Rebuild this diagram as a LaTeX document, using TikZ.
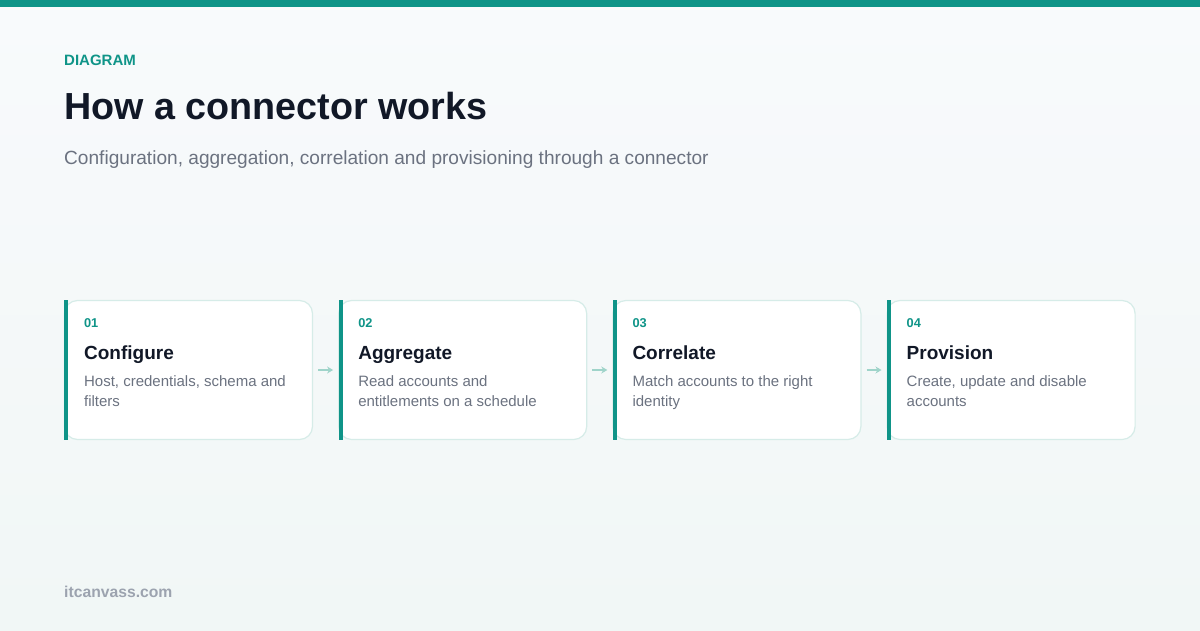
\documentclass[tikz,border=0pt]{standalone}
\usepackage{fontspec}
\setmainfont{Liberation Sans}
\usetikzlibrary{positioning,arrows.meta}
\definecolor{teal}{HTML}{0F9488}
\definecolor{ink}{HTML}{111827}
\definecolor{muted}{HTML}{6B7280}
\definecolor{faint}{HTML}{9CA3AF}
\definecolor{edge}{HTML}{D6ECE8}
\definecolor{flow}{HTML}{9FD4CA}
\definecolor{bgtop}{HTML}{F8FAFC}
\definecolor{bgbot}{HTML}{F1F7F6}

\begin{document}
\begin{tikzpicture}[x=1pt, y=-1pt,
  card/.style={draw=edge, line width=1.2pt, fill=white, rounded corners=13pt,
    minimum width=248pt, minimum height=139pt, inner sep=0pt},
  num/.style={anchor=base west, inner sep=0pt, text=teal, font=\fontsize{12.8}{14}\selectfont\bfseries},
  head/.style={anchor=base west, inner sep=0pt, text=ink, font=\fontsize{19}{22}\selectfont\bfseries},
  desc/.style={anchor=base west, inner sep=0pt, text=muted, align=left,
    font=\fontsize{15}{20}\selectfont},
  flowarrow/.style={draw=flow, line width=1.6pt, -{Stealth[length=6pt,width=7pt]},
    shorten <=5pt, shorten >=5pt}]
  \useasboundingbox (0,0) rectangle (1200,630);
  \shade[top color=bgtop, bottom color=bgbot] (0,0) rectangle (1200,630);
  \fill[teal] (0,0) rectangle (1200,7);

  \node (kicker) [anchor=base west, inner sep=0pt, text=teal,
    font=\fontsize{15}{16}\selectfont\bfseries] at (64,65) {DIAGRAM};
  \node (title) [anchor=base west, inner sep=0pt, text=ink,
    font=\fontsize{37.7}{44}\selectfont\bfseries] at (64,119) {How a connector works};
  \node (subtitle) [anchor=base west, inner sep=0pt, text=muted,
    font=\fontsize{19.1}{22}\selectfont] at (64,164)
    {Configuration, aggregation, correlation and provisioning through a connector};

  \node (c1) [card] at (188.5,370) {};
  \node (c2) [card, right=25pt of c1] {};
  \node (c3) [card, right=25pt of c2] {};
  \node (c4) [card, right=25pt of c3] {};

  \fill[teal] ([xshift=0.5pt]c1.north west) rectangle ([xshift=4.5pt]c1.south west);
  \fill[teal] ([xshift=0.5pt]c2.north west) rectangle ([xshift=4.5pt]c2.south west);
  \fill[teal] ([xshift=0.5pt]c3.north west) rectangle ([xshift=4.5pt]c3.south west);
  \fill[teal] ([xshift=0.5pt]c4.north west) rectangle ([xshift=4.5pt]c4.south west);

  \node (c1num) [num] at ([shift={(20,28)}]c1.north west) {01};
  \node (c1head) [head] at ([shift={(20,60)}]c1.north west) {Configure};
  \node (c1desc) [desc] at ([shift={(20,107)}]c1.north west) {Host, credentials, schema and\\filters};

  \node (c2num) [num] at ([shift={(20,28)}]c2.north west) {02};
  \node (c2head) [head] at ([shift={(20,60)}]c2.north west) {Aggregate};
  \node (c2desc) [desc] at ([shift={(20,107)}]c2.north west) {Read accounts and\\entitlements on a schedule};

  \node (c3num) [num] at ([shift={(20,28)}]c3.north west) {03};
  \node (c3head) [head] at ([shift={(20,60)}]c3.north west) {Correlate};
  \node (c3desc) [desc] at ([shift={(20,107)}]c3.north west) {Match accounts to the right\\identity};

  \node (c4num) [num] at ([shift={(20,28)}]c4.north west) {04};
  \node (c4head) [head] at ([shift={(20,60)}]c4.north west) {Provision};
  \node (c4desc) [desc] at ([shift={(20,107)}]c4.north west) {Create, update and disable\\accounts};

  \draw [flowarrow] (c1) -- (c2);
  \draw [flowarrow] (c2) -- (c3);
  \draw [flowarrow] (c3) -- (c4);

  \node (site) [anchor=base west, inner sep=0pt, text=faint,
    font=\fontsize{15.7}{18}\selectfont\bfseries] at (64,597) {itcanvass.com};
\end{tikzpicture}
\end{document}
